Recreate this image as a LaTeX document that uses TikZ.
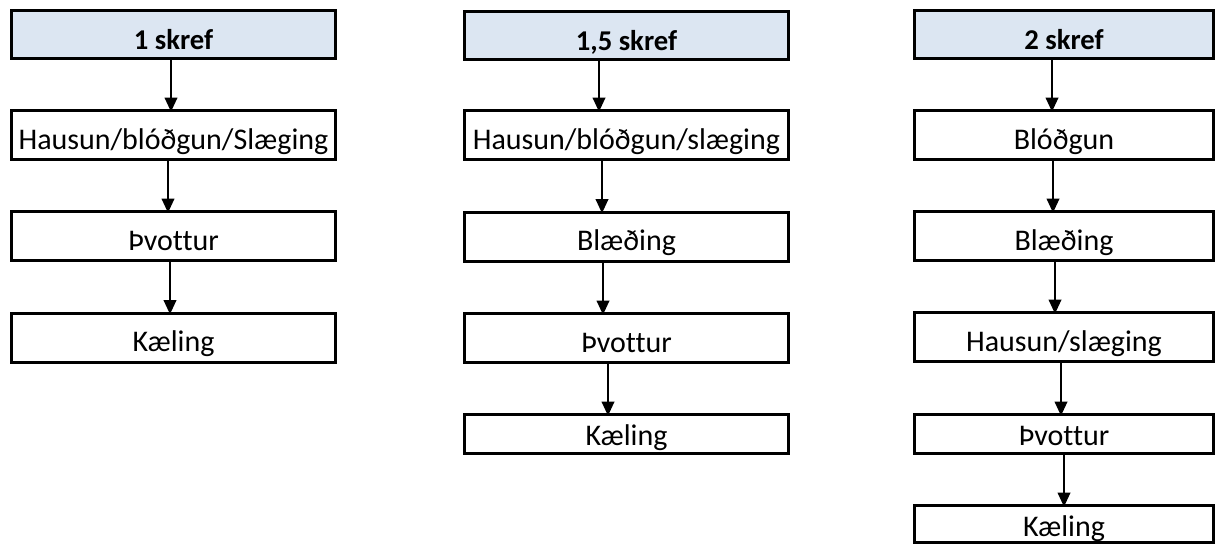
\documentclass[tikz,border=0pt]{standalone}
\usepackage{fontspec}
\setmainfont{Carlito}[Ligatures=NoCommon]
\usetikzlibrary{arrows.meta}

\definecolor{headblue}{HTML}{DCE6F2}

\begin{document}
\begin{tikzpicture}
  [x=0.75pt,y=-0.75pt,
   every node/.style={rectangle,draw,line width=2.25pt,inner sep=0pt,
     font=\fontsize{22.5}{27}\selectfont,minimum height=36.75pt,
     text height=21pt,text depth=0pt},
   wide/.style={minimum width=243pt},
   narrow/.style={minimum width=224.25pt},
   low/.style={minimum height=29.25pt,text height=16.5pt},
   head/.style={fill=headblue,font=\fontsize{21.5}{26}\selectfont\bfseries,
     minimum height=36pt,text height=23pt},
   arr/.style={line width=1.1pt,-{Triangle[length=10.5pt,width=9.5pt]},shorten >=-2pt}]
  \useasboundingbox (0,0) rectangle (1217,546);

  % 1 skref
  \node [head,wide] (h1) at (173.5,34.5) {1 skref};
  \node [wide] (a1) at (173.5,135) {Hausun/blóðgun/Slæging};
  \node [wide] (b1) at (173.5,236) {Þvottur};
  \node [wide] (c1) at (173.5,337.5) {Kæling};

  % 1,5 skref
  \node [head,wide] (h2) at (626.5,35) {1,5 skref};
  \node [wide] (a2) at (626.5,135) {Hausun/blóðgun/slæging};
  \node [wide] (b2) at (626.5,236.5) {Blæðing};
  \node [wide] (c2) at (626.5,338) {Þvottur};
  \node [wide,low] (d2) at (626.5,434) {Kæling};

  % 2 skref
  \node [head,narrow] (h3) at (1064,34.5) {2 skref};
  \node [narrow] (a3) at (1064,135) {Blóðgun};
  \node [narrow] (b3) at (1064,236) {Blæðing};
  \node [narrow] (c3) at (1064,337) {Hausun/slæging};
  \node [narrow,low] (d3) at (1064,434) {Þvottur};
  \node [narrow,low,minimum height=27.75pt,text height=18pt] (e3) at (1064,524) {Kæling};

  \foreach \from/\to/\dx in {h1/a1/-2.5,a1/b1/-5.5,b1/c1/-3.5,
      h2/a2/-27.5,a2/b2/-24.5,b2/c2/-23.5,c2/d2/-18.5,
      h3/a3/-12,a3/b3/-11,b3/c3/-9,c3/d3/-3,d3/e3/0}
    \draw [arr] ([xshift=\dx*0.75pt]\from.south) -- ([xshift=\dx*0.75pt]\to.north);

\end{tikzpicture}
\end{document}
